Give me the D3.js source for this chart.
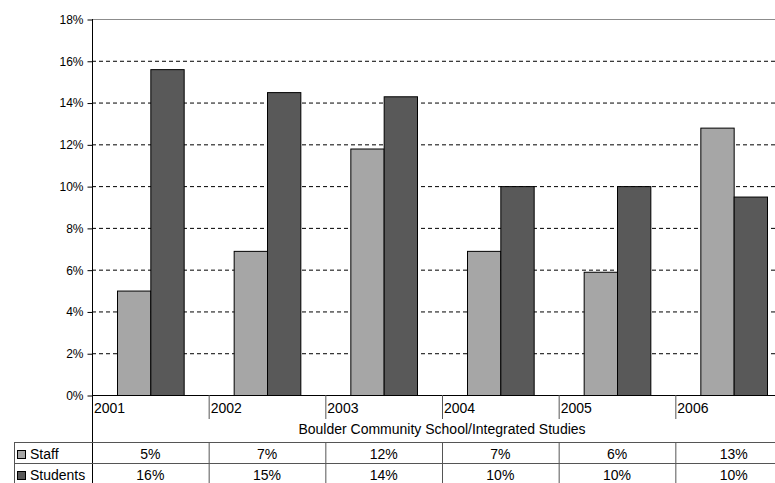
<!DOCTYPE html>
<html>
<head>
<meta charset="utf-8">
<script src="https://cdn.jsdelivr.net/npm/d3@7"></script>
<style>
  body { margin: 0; background: #fff; }
  svg { display: block; font-family: "Liberation Sans", Arial, sans-serif; }
</style>
</head>
<body>
<svg id="chart" width="775" height="483"></svg>
<script>
// chart data
const years = ['2001', '2002', '2003', '2004', '2005', '2006'];
const seriesNames = ['Staff', 'Students'];
const staffValues = [5.0, 6.9, 11.8, 6.9, 5.9, 12.8];
const studentValues = [15.6, 14.5, 14.3, 10.0, 10.0, 9.5];
const staffLabels = ['5%', '7%', '12%', '7%', '6%', '13%'];
const studentLabels = ['16%', '15%', '14%', '10%', '10%', '10%'];
const yTicks = [0, 2, 4, 6, 8, 10, 12, 14, 16, 18];
const categoryTitle = 'Boulder Community School/Integrated Studies';

const colors = { Staff: '#a6a6a6', Students: '#595959' };
const tableFont = 14;

const svg = d3.select('#chart');
const margin = { top: 19, left: 92, right: -17, bottom: 88 };
const W = 775, H = 483;
const plotRight = W - margin.right;
const plotBottom = H - margin.bottom;

let x = d3.scaleBand().domain(years).range([margin.left, plotRight]).padding(0);
let xInner = d3.scaleBand().domain(seriesNames).range([0, x.bandwidth()])
    .paddingInner(0).paddingOuter(0.75);
let y = d3.scaleLinear().domain([0, 18]).range([plotBottom, margin.top]);

// gridlines
svg.append('g').selectAll('line')
    .data(yTicks.filter(t => t > 0))
    .join('line')
    .attr('x1', margin.left).attr('x2', plotRight)
    .attr('y1', d => y(d) + 0.5).attr('y2', d => y(d) + 0.5)
    .attr('stroke', d => d == 18 ? '#8c8c8c' : '#000')
    .attr('stroke-width', 1)
    .attr('stroke-dasharray', d => d == 18 ? null : '4,3');

// bars
let rows = years.map((yr, i) => ({ year: yr, Staff: staffValues[i], Students: studentValues[i] }));
svg.append('g').selectAll('g')
    .data(rows)
    .join('g')
    .attr('transform', d => `translate(${x(d.year)},0)`)
    .selectAll('rect')
    .data(d => seriesNames.map(s => ({ key: s, value: d[s] })))
    .join('rect')
    .attr('x', d => xInner(d.key) + 0.5)
    .attr('y', d => y(d.value) + 0.5)
    .attr('width', xInner.bandwidth())
    .attr('height', d => y(0) - y(d.value))
    .attr('fill', d => colors[d.key])
    .attr('stroke', '#000')
    .attr('stroke-width', 1);

// y axis
let yAxis = d3.axisLeft(y).tickValues(yTicks).tickFormat(d => d + '%').tickSize(5).tickPadding(4);
let ga = svg.append('g').attr('transform', `translate(${margin.left + 0.5},0.5)`).call(yAxis);
ga.select('.domain').remove();
ga.selectAll('.tick line').attr('stroke', '#000');
ga.selectAll('.tick text').attr('font-size', 12).attr('fill', '#000')
    .attr('font-family', '"Liberation Sans", Arial, sans-serif');

// axis lines
svg.append('line')
    .attr('x1', margin.left + 0.5).attr('x2', margin.left + 0.5)
    .attr('y1', margin.top).attr('y2', H)
    .attr('stroke', '#000');
svg.append('line')
    .attr('x1', margin.left).attr('x2', plotRight)
    .attr('y1', y(0) + 0.5).attr('y2', y(0) + 0.5)
    .attr('stroke', '#000');

// category labels + dividers
let cat = svg.append('g');
cat.selectAll('line')
    .data(years.slice(1))
    .join('line')
    .attr('x1', d => x(d) + 0.5).attr('x2', d => x(d) + 0.5)
    .attr('y1', y(0)).attr('y2', y(0) + 24)
    .attr('stroke', '#555');
cat.selectAll('text')
    .data(years)
    .join('text')
    .attr('x', d => x(d) + 2)
    .attr('y', y(0) + 18)
    .attr('font-size', tableFont)
    .text(d => d);

svg.append('text')
    .attr('x', (margin.left + plotRight) / 2)
    .attr('y', y(0) + 39)
    .attr('text-anchor', 'middle')
    .attr('font-size', tableFont)
    .text(categoryTitle);

// data table
const tableTop = 442, rowH = 21, tableLeft = 14;
let table = svg.append('g');
[0, 1, 2].forEach(r => {
    table.append('line')
        .attr('x1', tableLeft).attr('x2', plotRight)
        .attr('y1', tableTop + r * rowH + 0.5).attr('y2', tableTop + r * rowH + 0.5)
        .attr('stroke', '#555');
});
table.append('line')
    .attr('x1', tableLeft + 0.5).attr('x2', tableLeft + 0.5)
    .attr('y1', tableTop).attr('y2', tableTop + 2 * rowH)
    .attr('stroke', '#555');
table.selectAll('line.col')
    .data(years.slice(1))
    .join('line')
    .attr('class', 'col')
    .attr('x1', d => x(d) + 0.5).attr('x2', d => x(d) + 0.5)
    .attr('y1', tableTop).attr('y2', tableTop + 2 * rowH)
    .attr('stroke', '#555');

let tableRows = [
    { name: 'Staff', labels: staffLabels },
    { name: 'Students', labels: studentLabels }
];
tableRows.forEach((row, r) => {
    let cy = tableTop + r * rowH;
    table.append('rect')
        .attr('x', 17.5).attr('y', cy + 8.5)
        .attr('width', 8).attr('height', 8)
        .attr('fill', colors[row.name])
        .attr('stroke', '#000');
    table.append('text')
        .attr('x', 30).attr('y', cy + 17)
        .attr('font-size', tableFont)
        .text(row.name);
    table.selectAll(null)
        .data(row.labels)
        .join('text')
        .attr('x', (d, i) => x(years[i]) + x.bandwidth() / 2)
        .attr('y', cy + 17)
        .attr('text-anchor', 'middle')
        .attr('font-size', tableFont)
        .text(d => d);
});
</script>
</body>
</html>
